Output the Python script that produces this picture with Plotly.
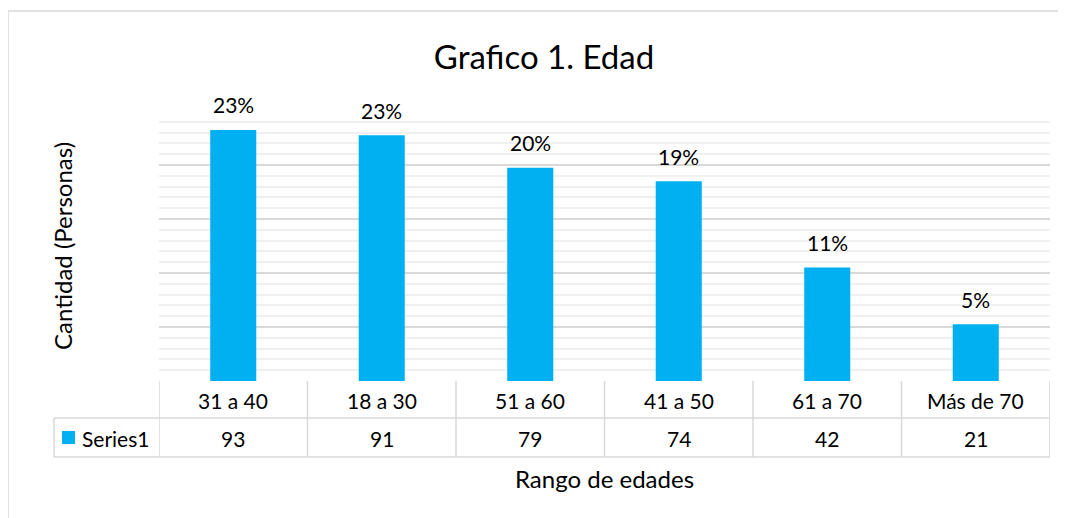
import plotly.graph_objects as go

# Data
categories = ["31 a 40", "18 a 30", "51 a 60", "41 a 50", "61 a 70", "Más de 70"]
values = [93, 91, 79, 74, 42, 21]
pct_labels = ["23%", "23%", "20%", "19%", "11%", "5%"]
series_name = "Series1"

bar_color = "#00B0F0"
line_color = "#d9d9d9"
font_family = "Lato, Open Sans, sans-serif"
text_color = "#000000"

# the page adds an 8px body margin, so the figure is 8px smaller than the window
W, H = 1058, 510

fig = go.Figure()
fig.add_trace(go.Bar(x=categories, y=values, marker=dict(color=bar_color, line=dict(width=0)),
                     name=series_name, showlegend=False, hoverinfo="x+y"))

annotations = []
# percent labels above the bars
for c, v, t in zip(categories, values, pct_labels):
    annotations.append(dict(x=c, y=v, xref="x", yref="y", text=t, showarrow=False,
                            yanchor="middle", yshift=25, font=dict(size=21, color=text_color)))
# data table: category row and values row
for c, v in zip(categories, values):
    annotations.append(dict(x=c, y=0, xref="x", yref="paper", text=c, showarrow=False,
                            yanchor="middle", yshift=-19, font=dict(size=21, color=text_color)))
    annotations.append(dict(x=c, y=0, xref="x", yref="paper", text=str(v), showarrow=False,
                            yanchor="middle", yshift=-57, font=dict(size=21, color=text_color)))
# series label in the table
annotations.append(dict(x=0, y=0, xref="paper", yref="paper", text=series_name, showarrow=False,
                        xanchor="left", yanchor="middle", xshift=-79, yshift=-57,
                        font=dict(size=21, color=text_color)))
# axis titles
annotations.append(dict(x=0, y=0.5, xref="paper", yref="paper", text="Cantidad (Personas)",
                        showarrow=False, textangle=-90, xanchor="center", yanchor="middle",
                        xshift=-97, font=dict(size=24, color=text_color)))
annotations.append(dict(x=0.5, y=0, xref="paper", yref="paper", text="Rango de edades",
                        showarrow=False, xanchor="center", yanchor="middle", yshift=-97,
                        font=dict(size=24, color=text_color)))

shapes = []
n = len(categories)
ln = dict(color=line_color, width=1.5)
# table vertical lines
for i in range(n + 1):
    shapes.append(dict(type="line", xref="x", yref="paper", x0=i - 0.5, x1=i - 0.5,
                       ysizemode="pixel", yanchor=0, y0=0, y1=-76, line=ln))
# table horizontal lines (from the series-label column to the right end)
for dy in [-37, -76]:
    shapes.append(dict(type="line", xref="paper", yref="paper", xsizemode="pixel", xanchor=0,
                       x0=-105, x1=891, ysizemode="pixel", yanchor=0, y0=dy, y1=dy, line=ln))
shapes.append(dict(type="line", xref="paper", yref="paper", xsizemode="pixel", xanchor=0,
                   x0=-105, x1=-105, ysizemode="pixel", yanchor=0, y0=-37, y1=-76, line=ln))
# legend key square
shapes.append(dict(type="rect", xref="paper", yref="paper", xsizemode="pixel", xanchor=0,
                   x0=-97, x1=-84, ysizemode="pixel", yanchor=0, y0=-50, y1=-63,
                   fillcolor=bar_color, line=dict(width=0)))
# chart area border (top and left)
shapes.append(dict(type="line", xref="paper", yref="paper", xsizemode="pixel", xanchor=0,
                   x0=-151, x1=1000, ysizemode="pixel", yanchor=1, y0=100, y1=100, line=ln))
shapes.append(dict(type="line", xref="paper", yref="paper", xsizemode="pixel", xanchor=0,
                   x0=-151, x1=-151, ysizemode="pixel", yanchor=1, y0=100, y1=-600, line=ln))

fig.update_layout(
    width=W, height=H,
    margin=dict(l=151, r=16, t=103, b=137),
    paper_bgcolor="white", plot_bgcolor="white",
    font=dict(family=font_family, color=text_color),
    title=dict(text="Grafico 1. Edad", x=(544 - 8) / W, xanchor="center", y=1 - (57 - 8) / H,
               yanchor="middle", font=dict(size=33, color=text_color)),
    bargap=0.69,
    xaxis=dict(showticklabels=False, showgrid=False, zeroline=False, showline=False,
               range=[-0.5, n - 0.5], fixedrange=True),
    yaxis=dict(range=[0, 100], dtick=20, showticklabels=False, showgrid=True,
               gridcolor=line_color, gridwidth=1.5, zeroline=False, showline=False,
               minor=dict(dtick=4, showgrid=True, gridcolor="#f0f0f0", gridwidth=1.5),
               fixedrange=True),
    annotations=annotations,
    shapes=shapes,
)

fig.write_html("out.html")
